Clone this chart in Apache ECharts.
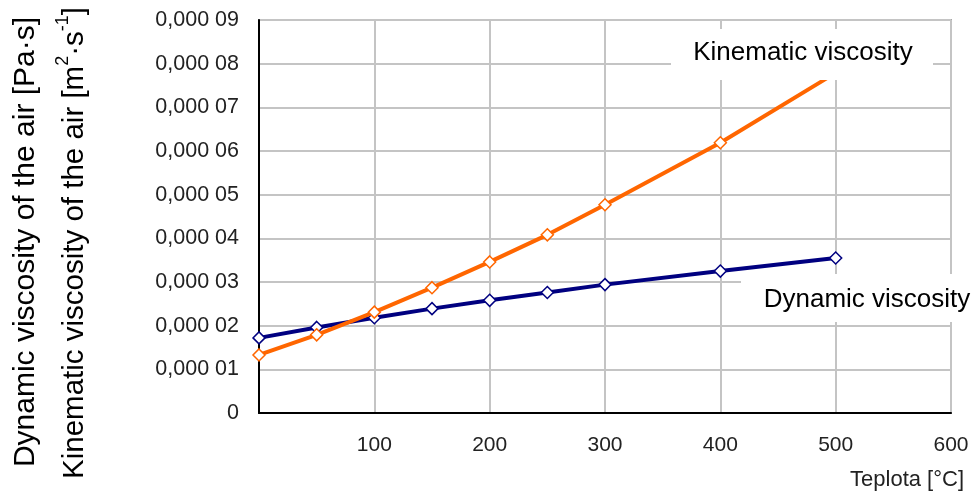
<!DOCTYPE html>
<html><head><meta charset="utf-8">
<script src="https://cdn.jsdelivr.net/npm/echarts@6/dist/echarts.min.js"></script>
<style>html,body{margin:0;padding:0;background:#fff}#c{width:977px;height:491px}</style>
</head><body><div id="c"></div>
<script>
var temperatures = [0, 50, 100, 150, 200, 250, 300, 400, 500];
var dynamicViscosity = [1.72e-5, 1.96e-5, 2.18e-5, 2.39e-5, 2.58e-5, 2.76e-5, 2.94e-5, 3.25e-5, 3.55e-5];
var kinematicViscosity = [1.33e-5, 1.79e-5, 2.31e-5, 2.87e-5, 3.46e-5, 4.08e-5, 4.77e-5, 6.19e-5, 7.79e-5];
var yTickLabels = ['0', '0,000 01', '0,000 02', '0,000 03', '0,000 04', '0,000 05', '0,000 06', '0,000 07', '0,000 08', '0,000 09'];
var xTickLabels = ['', '100', '200', '300', '400', '500', '600'];

function pairs(xs, ys) { return xs.map(function (x, i) { return [x, ys[i]]; }); }

var chart = echarts.init(document.getElementById('c'));
var font = 'Liberation Sans, Arial, sans-serif';
chart.setOption({
  animation: false,
  textStyle: { fontFamily: font },
  grid: { left: 259, right: 26, top: 20, bottom: 78, show: true, borderColor: '#a8a8a8', borderWidth: 2, backgroundColor: 'transparent' },
  xAxis: {
    type: 'value', min: 0, max: 600, interval: 100,
    axisLine: { show: true, onZero: false, lineStyle: { color: '#000', width: 2 } },
    axisTick: { show: false },
    splitLine: { show: true, lineStyle: { color: '#c4c4c4', width: 2 } },
    axisLabel: { margin: 22, fontSize: 21, color: '#222', fontFamily: font,
      formatter: function (v) { return xTickLabels[Math.round(v / 100)]; } }
  },
  yAxis: {
    type: 'value', min: 0, max: 9e-5, interval: 1e-5,
    axisLine: { show: true, lineStyle: { color: '#000', width: 2 } },
    axisTick: { show: false },
    splitLine: { show: true, lineStyle: { color: '#c4c4c4', width: 2 } },
    axisLabel: { margin: 20, fontSize: 21.5, color: '#222', fontFamily: font,
      formatter: function (v) { return yTickLabels[Math.round(v / 1e-5)]; } }
  },
  series: [
    { type: 'line', name: 'Dynamic viscosity', data: pairs(temperatures, dynamicViscosity),
      symbol: 'diamond', symbolSize: 12, showAllSymbol: true,
      lineStyle: { color: '#000080', width: 4 },
      itemStyle: { color: '#fff', borderColor: '#000080', borderWidth: 1.5 }, z: 3 },
    { type: 'line', name: 'Kinematic viscosity', data: pairs(temperatures, kinematicViscosity),
      symbol: 'diamond', symbolSize: 12, showAllSymbol: true,
      lineStyle: { color: '#ff6600', width: 4 },
      itemStyle: { color: '#fff', borderColor: '#ff6600', borderWidth: 1.5 }, z: 4 }
  ],
  graphic: [
    { type: 'rect', shape: { x: 671, y: 29, width: 262, height: 51 }, style: { fill: '#fff' }, z: 100 },
    { type: 'text', x: 803, y: 53, style: { text: 'Kinematic viscosity', fontSize: 26, fontFamily: font, fill: '#000', align: 'center', verticalAlign: 'middle' }, z: 101 },
    { type: 'rect', shape: { x: 741, y: 274, width: 236, height: 48 }, style: { fill: '#fff' }, z: 100 },
    { type: 'text', x: 867, y: 300, style: { text: 'Dynamic viscosity', fontSize: 26, fontFamily: font, fill: '#000', align: 'center', verticalAlign: 'middle' }, z: 101 },
    { type: 'text', x: 964, y: 480, style: { text: 'Teplota [°C]', fontSize: 22, fontFamily: font, fill: '#222', align: 'right', verticalAlign: 'middle' }, z: 101 },
    { type: 'text', x: 26, y: 242, rotation: Math.PI / 2, style: { text: 'Dynamic viscosity of the air [Pa·s]', fontSize: 30, fontFamily: font, fill: '#000', align: 'center', verticalAlign: 'middle' }, z: 101 },
    { type: 'text', x: 72, y: 243, rotation: Math.PI / 2,
      style: { text: '{n|Kinematic viscosity of the air [m}{s|2}{n|·s}{s|-1}{n|]}', fontFamily: font, fill: '#000', align: 'center', verticalAlign: 'middle',
        rich: { n: { fontSize: 29.5, fontFamily: font, fill: '#000', verticalAlign: 'bottom', lineHeight: 36 },
                s: { fontSize: 18, fontFamily: font, fill: '#000', verticalAlign: 'top', lineHeight: 36 } } }, z: 101 }
  ]
});
</script></body></html>
